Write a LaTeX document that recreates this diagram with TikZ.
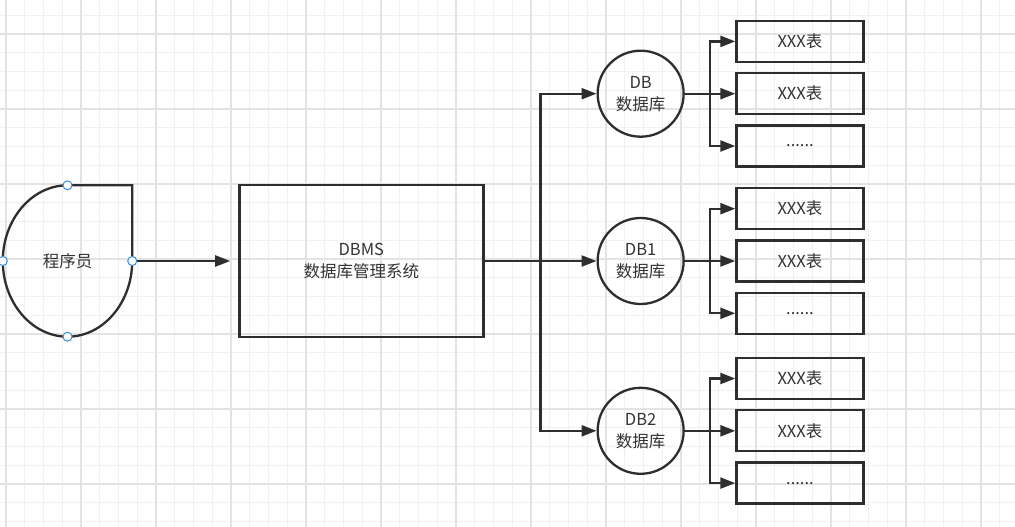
\documentclass[tikz,border=0pt]{standalone}
\usepackage{fontspec}
\setmainfont{Noto Sans CJK SC}
\usepackage{xcolor}
\usetikzlibrary{positioning,arrows.meta,calc}
\definecolor{ink}{HTML}{2E2E2E}
\definecolor{txt}{HTML}{333333}
\definecolor{gridmin}{HTML}{F1F1F1}
\definecolor{gridmaj}{HTML}{E3E3E3}
\definecolor{handle}{HTML}{3C8CDC}

\begin{document}
\begin{tikzpicture}[
  x=1pt,y=-1pt,
  font=\fontsize{16.5}{22}\selectfont,
  >={Triangle[length=15pt,width=11pt]},
  % --- shared look of the drawing ---
  base/.style  ={draw=ink,line width=2.3pt,text=txt,align=center,inner sep=2pt},
  progb/.style ={align=center,text=txt,minimum width=129pt,minimum height=151pt,
                 inner sep=0pt},
  dbmsb/.style ={base,rectangle,minimum width=244pt,minimum height=152pt},
  dbc/.style   ={base,circle,minimum size=86pt},
  tbl/.style   ={base,rectangle,minimum width=127pt,minimum height=41pt},
  line/.style  ={draw=ink,line width=2.3pt},
  flow/.style  ={->,line},
  both/.style  ={<->,line},
  hdl/.style   ={circle,draw=handle,fill=white,line width=1pt,
                 minimum size=9pt,inner sep=0pt},
]

% ============================ page and grid ============================
\useasboundingbox (0,0) rectangle (1015,527);
\fill[white] (0,0) rectangle (1015,527);
\foreach \gx in {0,...,54}
  \draw[gridmin,line width=0.9pt] ({6+18.75*\gx},0) -- ({6+18.75*\gx},527);
\foreach \gy in {0,...,28}
  \draw[gridmin,line width=0.9pt] (0,{15.25+18.75*\gy}) -- (1015,{15.25+18.75*\gy});
\foreach \gx in {0,...,13}
  \draw[gridmaj,line width=1.1pt] ({6+75*\gx},0) -- ({6+75*\gx},527);
\foreach \gy in {0,...,6}
  \draw[gridmaj,line width=1.1pt] (0,{34+75*\gy}) -- (1015,{34+75*\gy});

% ============================ main nodes ============================
\node[progb] (prog) at (67.5,261) {程序员};
\node[dbmsb,right=106pt of prog] (dbms) {DBMS\\数据库管理系统};

\node[dbc,right=112pt of dbms] (db1) {DB1\\数据库};
\node[dbc,above=79pt of db1]   (db0) {DB\\数据库};
\node[dbc,below=81.5pt of db1] (db2) {DB2\\数据库};

% programmer outline: square corner at top right, rounded elsewhere
\draw[line] (prog.north) -- (prog.north east) -- (prog.east)
  .. controls ($(prog.east)+(0,41.7)$) and ($(prog.south)+(35.6,0)$) .. (prog.south)
  .. controls ($(prog.south)+(-35.6,0)$) and ($(prog.west)+(0,41.7)$) .. (prog.west)
  .. controls ($(prog.west)+(0,-41.7)$) and ($(prog.north)+(-35.6,0)$) .. (prog.north);
\foreach \a in {north,west,east,south}
  \node[hdl] (h-\a) at (prog.\a) {};

% ============================ tables per database ============================
\foreach \d in {db0,db1,db2}{
  \node[tbl,right=50.5pt of \d]   (\d-t2) {XXX表};
  \node[tbl,above=9pt of \d-t2]   (\d-t1) {XXX表};
  \node[tbl,below=9pt of \d-t2]   (\d-t3) {......};
  \coordinate (\d-fork) at ($(\d.east)!0.5!(\d-t2.west)$);
  \draw[flow] (\d.east) -- (\d-t2.west);
  \draw[both] (\d-t1.west) -- (\d-fork |- \d-t1.west) -- (\d-fork |- \d-t3.west) -- (\d-t3.west);
}

% ============================ connectors ============================
\draw[flow,shorten >=8pt] (h-east) -- (dbms.west);
\coordinate (split) at ($(dbms.east)!0.5!(db1.west)$);
\draw[flow] (dbms.east) -- (db1.west);
\draw[both] (db0.west) -- (split |- db0.west) -- (split |- db2.west) -- (db2.west);

\end{tikzpicture}
\end{document}
